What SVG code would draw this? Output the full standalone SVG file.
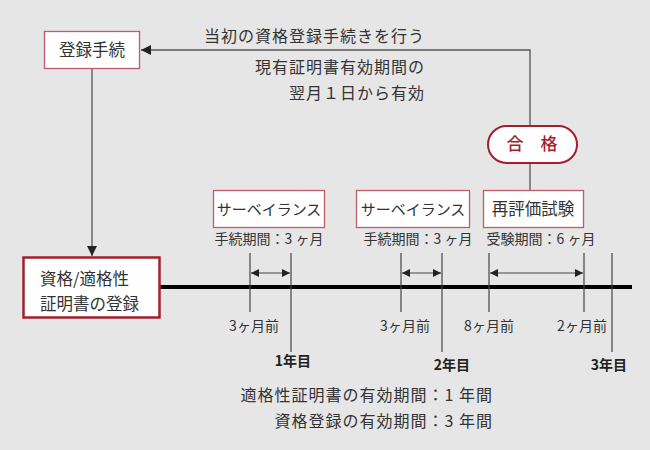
<svg xmlns="http://www.w3.org/2000/svg" width="650" height="450" viewBox="0 0 650 450">
<defs>
<marker id="ah" viewBox="0 0 10 10" refX="10" refY="5" markerWidth="8" markerHeight="8" markerUnits="userSpaceOnUse" orient="auto-start-reverse"><path d="M0,0 L10,5 L0,10 z" fill="#222"/></marker>
<marker id="ah2" viewBox="0 0 10 10" refX="10" refY="5" markerWidth="12" markerHeight="10" markerUnits="userSpaceOnUse" orient="auto"><path d="M0,0 L10,5 L0,10 z" fill="#222"/></marker>
<style>
text{font-family:"Noto Sans CJK JP","Noto Sans",sans-serif;fill:#333}
.t{font-size:16px;letter-spacing:1px}
.s{font-size:14px}
.m{font-size:14px}
.b{font-size:14px;font-weight:bold;fill:#222}
.box{fill:#fff;stroke:#c35a6a;stroke-width:1.3}
.ln{stroke:#555;stroke-width:1.3;fill:none}
.tk{stroke:#444;stroke-width:1.2}
</style>
</defs>
<rect width="650" height="450" fill="#e6e6e6"/>
<g id="connectors">
<path class="ln" d="M530,125 V50 H141" marker-end="url(#ah2)"/>
<path class="ln" d="M530,163 V190"/>
<path class="ln" d="M92,69 V256" marker-end="url(#ah2)"/>
<line x1="160" y1="287" x2="632" y2="287" stroke="#000" stroke-width="4"/>
<g class="tk">
<line x1="250" y1="253" x2="250" y2="312"/>
<line x1="291" y1="253" x2="291" y2="352"/>
<line x1="401" y1="253" x2="401" y2="312"/>
<line x1="442" y1="253" x2="442" y2="352"/>
<line x1="489" y1="253" x2="489" y2="312"/>
<line x1="584" y1="253" x2="584" y2="312"/>
<line x1="612" y1="253" x2="612" y2="352"/>
</g>
<g class="tk" stroke-width="1">
<line x1="251" y1="273" x2="290" y2="273" marker-start="url(#ah)" marker-end="url(#ah)"/>
<line x1="402" y1="273" x2="441" y2="273" marker-start="url(#ah)" marker-end="url(#ah)"/>
<line x1="490" y1="273" x2="583" y2="273" marker-start="url(#ah)" marker-end="url(#ah)"/>
</g>
</g>
<g id="toroku">
<rect class="box" x="44.5" y="31.5" width="95" height="37"/>
<text x="92" y="56" text-anchor="middle" style="font-size:16.5px">登録手続</text>
</g>
<g id="notes-top">
<text class="t" x="425" y="42" text-anchor="end">当初の資格登録手続きを行う</text>
<text class="t" x="425" y="73" text-anchor="end">現有証明書有効期間の</text>
<text class="t" x="425" y="99" text-anchor="end">翌月１日から有効</text>
</g>
<g id="gokaku">
<rect x="488" y="126" width="89" height="37" rx="18.5" fill="#fff" stroke="#a51d2d" stroke-width="2"/>
<text x="532" y="150" text-anchor="middle" style="font-size:17px;fill:#a51d2d;font-weight:500" xml:space="preserve">合　格</text>
</g>
<g id="main">
<rect x="23.5" y="257.5" width="136" height="60" fill="#fff" stroke="#a0202e" stroke-width="2.5"/>
<text x="40" y="285" style="font-size:16.5px">資格/適格性</text>
<text x="40" y="310" style="font-size:16.5px">証明書の登録</text>
</g>
<g id="surv1">
<rect class="box" x="213.5" y="190.5" width="111" height="37"/>
<text x="269" y="215" text-anchor="middle" style="font-size:15px">サーベイランス</text>
<text class="s" x="269" y="244" text-anchor="middle">手続期間：3 ヶ月</text>
</g>
<g id="surv2">
<rect class="box" x="356.5" y="190.5" width="113" height="37"/>
<text x="413" y="215" text-anchor="middle" style="font-size:15px">サーベイランス</text>
<text class="s" x="418" y="244" text-anchor="middle">手続期間：3 ヶ月</text>
</g>
<g id="reexam">
<rect class="box" x="483.5" y="190.5" width="100" height="37"/>
<text x="533" y="215" text-anchor="middle" style="font-size:16.5px">再評価試験</text>
<text class="s" x="541" y="244" text-anchor="middle">受験期間：6 ヶ月</text>
</g>
<g id="ticklabels">
<text class="m" x="254" y="331" text-anchor="middle">3ヶ月前</text>
<text class="m" x="405" y="331" text-anchor="middle">3ヶ月前</text>
<text class="m" x="489" y="331" text-anchor="middle">8ヶ月前</text>
<text class="m" x="582" y="331" text-anchor="middle">2ヶ月前</text>
<text class="b" x="293" y="366" text-anchor="middle">1年目</text>
<text class="b" x="452" y="370" text-anchor="middle">2年目</text>
<text class="b" x="609" y="370" text-anchor="middle">3年目</text>
</g>
<g id="notes-bottom">
<text class="t" x="493" y="401" text-anchor="end">適格性証明書の有効期間：1 年間</text>
<text class="t" x="493" y="427" text-anchor="end">資格登録の有効期間：3 年間</text>
</g>
</svg>
